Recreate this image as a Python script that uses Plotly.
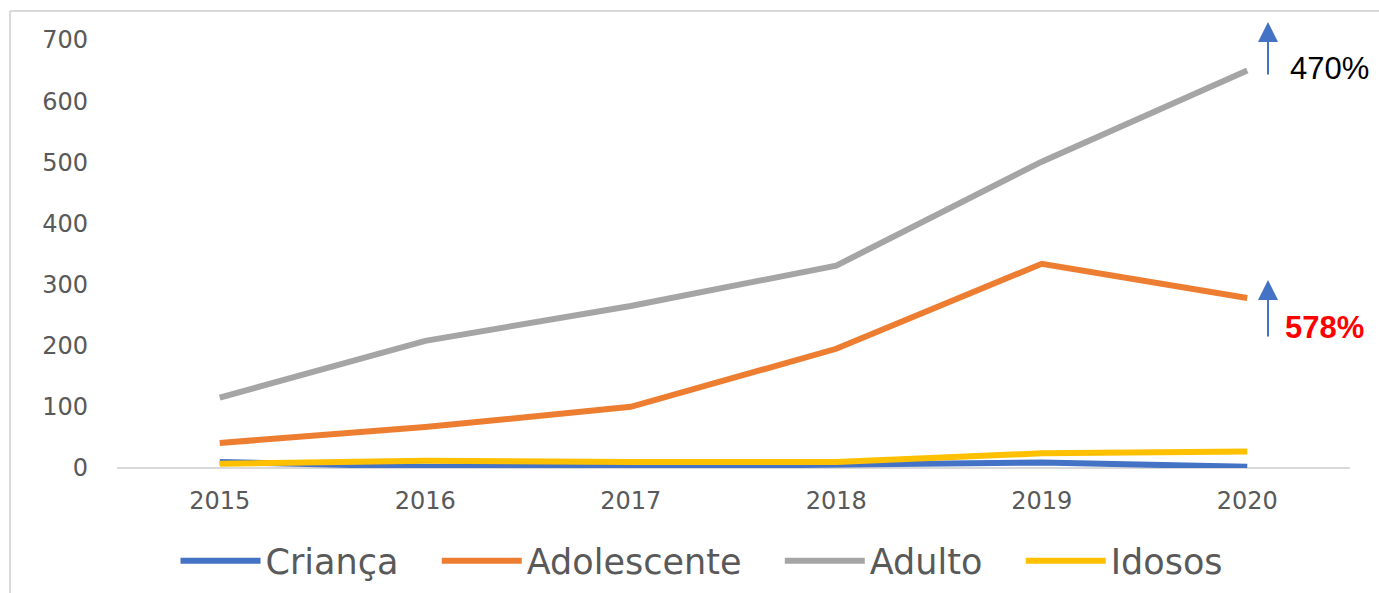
import plotly.graph_objects as go

years = ["2015", "2016", "2017", "2018", "2019", "2020"]
crianca = [10, 2, 2, 6, 9, 2]
adolescente = [41, 67, 100, 195, 334, 278]
adulto = [115, 208, 265, 331, 501, 650]
idosos = [7, 12, 10, 10, 24, 27]

series = [
    ("Criança", crianca, "#4472C4"),
    ("Adolescente", adolescente, "#ED7D31"),
    ("Adulto", adulto, "#A5A5A5"),
    ("Idosos", idosos, "#FFC000"),
]

fig = go.Figure()
pad = "\u00a0\u00a0\u00a0"
for i, (name, vals, col) in enumerate(series):
    label = name + (pad if i < len(series) - 1 else "")
    fig.add_trace(go.Scatter(x=years, y=vals, name=label, mode="lines",
                             line=dict(color=col, width=6)))

W, H = 1379, 593
L, R, T, B = 117, 29, 40, 125
pw, ph = W - L - R, H - T - B

def px(x):
    return (x - L) / pw

def py(y):
    return (H - B - y) / ph

fig.update_layout(
    width=W, height=H,
    margin=dict(l=L, r=R, t=T, b=B, autoexpand=False),
    plot_bgcolor="white", paper_bgcolor="white",
    font=dict(family="DejaVu Sans", color="#595959"),
    xaxis=dict(type="category", range=[-0.5, 5.5], showgrid=False, zeroline=False,
               showline=False, ticks="", tickfont=dict(size=24, color="#595959"),
               ticklabelstandoff=16, automargin=False),
    yaxis=dict(range=[0, 700], dtick=100, showgrid=False, zeroline=True,
               zerolinecolor="#D9D9D9", zerolinewidth=2, showline=False,
               tickfont=dict(size=24, color="#595959"), ticklabelstandoff=28,
               automargin=False),
    legend=dict(orientation="h", x=702 / W, xref="container", xanchor="center",
                y=(H - 561) / H, yref="container", yanchor="middle",
                font=dict(family="DejaVu Sans", size=35, color="#595959"),
                itemwidth=80, traceorder="normal"),
    showlegend=True,
)

fig.add_annotation(x=px(1268), y=py(22), xref="paper", yref="paper", ax=0, ay=54,
                   text="", showarrow=True, arrowhead=2, arrowwidth=2, arrowsize=2,
                   arrowcolor="#4472C4")
fig.add_annotation(x=px(1268), y=py(280), xref="paper", yref="paper", ax=0, ay=58,
                   text="", showarrow=True, arrowhead=2, arrowwidth=2, arrowsize=2,
                   arrowcolor="#4472C4")
fig.add_annotation(x=px(1329), y=py(68), xref="paper", yref="paper", text="470%",
                   xanchor="center", yanchor="middle", showarrow=False,
                   font=dict(family="Liberation Sans", size=31, color="black"))
fig.add_annotation(x=px(1324), y=py(327), xref="paper", yref="paper", text="<b>578%</b>",
                   xanchor="center", yanchor="middle", showarrow=False,
                   font=dict(family="Liberation Sans", size=31, color="#FF0000"))

fig.add_shape(type="line", xref="paper", yref="paper", x0=px(10), x1=px(10), y0=py(11), y1=py(593),
              line=dict(color="#D9D9D9", width=2))
fig.add_shape(type="line", xref="paper", yref="paper", x0=px(10), x1=px(1379), y0=py(11), y1=py(11),
              line=dict(color="#D9D9D9", width=2))

fig.write_html("out.html")
